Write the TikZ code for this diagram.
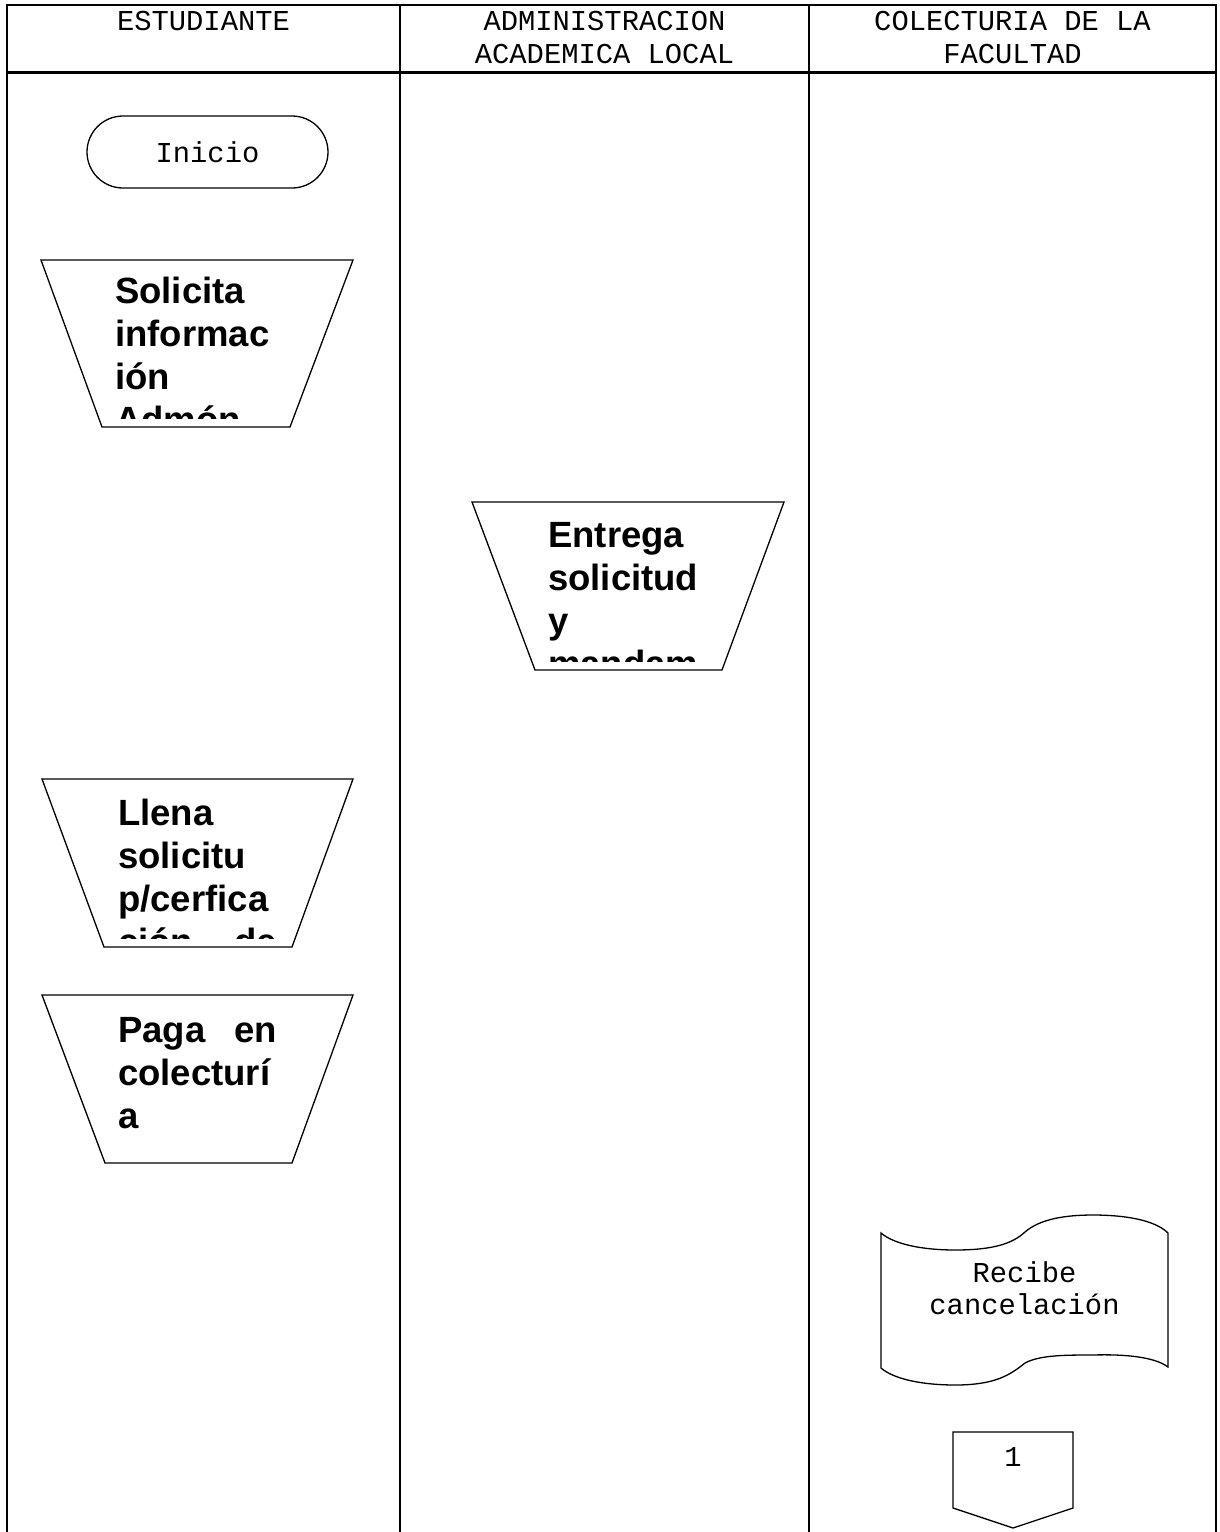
\documentclass[tikz,border=0pt]{standalone}
\usepackage{fontspec}
\setmainfont{Liberation Sans}
\newfontfamily\monofam{Liberation Mono}
\begin{document}
\begin{tikzpicture}[x=1pt,y=-1pt,
  grid/.style={line width=2.2pt},
  shapeline/.style={line width=1.3pt, line join=miter},
  lanehead/.style={font=\monofam\fontsize{28.8}{33}\selectfont, inner sep=0, anchor=base, align=center},
  monotext/.style={font=\monofam\fontsize{28.8}{32}\selectfont, inner sep=0},
  optext/.style={anchor=base west, inner sep=0, font=\fontsize{36.5}{43}\selectfont\bfseries}]
\useasboundingbox (0,0) rectangle (1219,1532);

% swimlane table
\draw[grid] (7,1532) -- (7,5) -- (1216,5) -- (1216,1532);
\draw[grid] (7,72.5) -- (1216,72.5);
\draw[grid] (400,5) -- (400,1532);
\draw[grid] (809,5) -- (809,1532);

% lane headings (base anchor sits on the last line)
\node[lanehead] (h1) at (203.5,30) {ESTUDIANTE};
\node[lanehead] (h2) at (604.5,63) {ADMINISTRACION\\ACADEMICA LOCAL};
\node[lanehead] (h3) at (1012.5,63) {COLECTURIA DE LA\\FACULTAD};

% start terminator
\node[draw, shapeline, rounded corners=36pt, minimum width=241pt, minimum height=72pt,
      font=\monofam\fontsize{28.8}{32}\selectfont] (inicio) at (207.5,152) {Inicio};

% manual operation: Solicita informacion
\draw[shapeline] (41,260) -- (353,260) -- (290,427) -- (102,427) -- cycle;
\begin{scope}
  \clip (100,262) rectangle (300,418);
  \node[optext] (solicita) at (115,303)
    {\vtop{\hbox{Solicita}\hbox{informac}\hbox{ión}\hbox{Admón}}};
\end{scope}

% manual operation: Entrega solicitud
\draw[shapeline] (472,502) -- (784,502) -- (722,670) -- (535,670) -- cycle;
\begin{scope}
  \clip (530,504) rectangle (730,661);
  \node[optext] (entrega) at (548,547)
    {\vtop{\hbox{Entrega}\hbox{solicitud}\hbox{y}\hbox{mandam}}};
\end{scope}

% manual operation: Llena solicitud
\draw[shapeline] (42,779) -- (353,779) -- (292,947) -- (104,947) -- cycle;
\begin{scope}
  \clip (100,781) rectangle (300,938);
  \node[optext] (llena) at (118,825)
    {\vtop{\hbox{Llena}\hbox{solicitu}\hbox{p/cerfica}\hbox to 159pt{ción\hfill de}}};
\end{scope}

% manual operation: Paga en colecturia
\draw[shapeline] (42,995) -- (353,995) -- (292,1163) -- (105,1163) -- cycle;
\node[optext] (paga) at (118,1042)
  {\vtop{\hbox to 159pt{Paga\hfill en}\hbox{colecturí}\hbox{a}}};

% document: Recibe cancelacion
\draw[shapeline] (881,1233)
  .. controls (895,1245) and (925,1250) .. (955,1250)
  .. controls (995,1250) and (1013,1243) .. (1025,1232)
  .. controls (1040,1219) and (1065,1215) .. (1093,1215)
  .. controls (1125,1215) and (1155,1220) .. (1168,1233)
  -- (1168,1367)
  .. controls (1155,1357) and (1125,1354) .. (1093,1355)
  .. controls (1065,1355) and (1040,1355) .. (1025,1363)
  .. controls (1010,1375) and (995,1385) .. (955,1385)
  .. controls (925,1385) and (895,1380) .. (881,1368)
  -- cycle;
\node[monotext, anchor=base] (recibe) at (1024.5,1282) {Recibe};
\node[monotext, anchor=base] (cancel) at (1024.5,1314) {cancelación};

% off-page connector
\draw[shapeline] (953,1432) -- (1073,1432) -- (1073,1508) -- (1013,1528) -- (953,1508) -- cycle;
\node[monotext, anchor=base] (uno) at (1013,1466) {1};
\end{tikzpicture}
\end{document}
